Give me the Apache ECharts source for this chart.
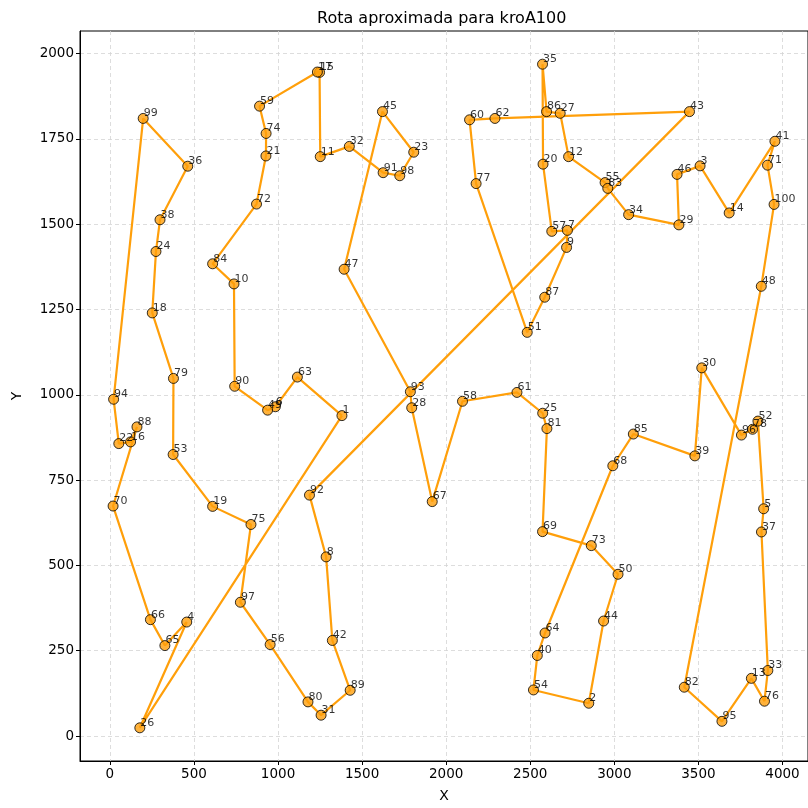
<!DOCTYPE html>
<html><head><meta charset="utf-8">
<script src="https://cdn.jsdelivr.net/npm/echarts@6/dist/echarts.min.js"></script>
<style>html,body{margin:0;padding:0;background:#fff}#c{width:808px;height:808px}</style>
</head><body><div id="c"></div><script>
// kroA100 node coordinates (node ids 1..100)
const nodeX = [1380,2848,3510,457,3888,984,2721,1286,2716,738,1251,2728,3815,3683,1247,123,1234,252,611,2576,
928,53,1807,274,2574,178,2678,1795,3384,3520,1256,1424,3913,3085,2573,463,3875,298,3479,2542,
3955,1323,3447,2936,1621,3373,1393,3874,938,3022,2482,3854,376,2519,2945,953,2628,2097,890,2139,
2421,2290,1115,2588,327,241,1917,2991,2573,19,3911,872,2863,929,839,3893,2178,3822,378,1178,
2599,3416,2961,611,3113,2597,2586,161,1429,742,1625,1187,1787,22,3640,3756,776,1724,198,3950];
const nodeY = [939,96,1671,334,666,965,1482,525,1432,1325,1698,1698,169,1533,1945,862,1946,1240,673,1676,
1700,857,1711,1420,946,24,1825,962,1498,1079,61,1728,192,1528,1969,1670,598,1513,821,236,
1743,280,1830,337,1830,1646,1368,1318,955,474,1183,923,825,135,1622,268,1479,981,1846,1806,
1007,1810,1052,302,265,341,687,792,599,674,1673,1559,558,1766,620,102,1619,899,1048,100,
901,143,1605,1384,885,1830,1286,906,134,1025,1651,706,1009,987,43,882,392,1642,1810,1558];
// approximate route (order of node ids)
const tour = [1,63,6,49,90,10,84,72,21,74,59,17,15,11,32,91,98,23,45,47,
93,28,67,58,61,25,81,69,73,50,44,2,54,40,64,68,85,39,30,96,
78,52,5,37,33,76,13,95,82,48,100,71,41,14,3,46,29,34,83,55,
12,27,86,35,20,57,7,9,87,51,77,60,62,43,92,8,42,89,31,80,
56,97,75,19,53,79,18,24,38,36,99,94,22,16,88,70,66,65,4,26];
const xTicks = [0,500,1000,1500,2000,2500,3000,3500,4000];
const yTicks = [0,250,500,750,1000,1250,1500,1750,2000];

const routeData = tour.map(id => [nodeX[id-1], nodeY[id-1]]);
routeData.push([nodeX[tour[0]-1], nodeY[tour[0]-1]]);
const pointData = nodeX.map((x, i) => ({value: [x, nodeY[i]], name: String(i+1)}));

const FONT = 'DejaVu Sans';
const chart = echarts.init(document.getElementById('c'), null, {renderer: 'canvas'});
const axisCommon = {
  type: 'value',
  axisLine: {show: true, onZero: false, lineStyle: {color: '#000', width: 1}},
  splitLine: {show: true, lineStyle: {color: '#d4d4d4', type: [4, 3], width: 0.8}},
  nameTextStyle: {fontFamily: FONT, fontSize: 14, color: '#000'}
};
chart.setOption({
  animation: false,
  backgroundColor: '#fff',
  title: {text: 'Rota aproximada para kroA100', left: 312, top: 6,
    textStyle: {fontFamily: FONT, fontSize: 16, fontWeight: 'normal', color: '#000'}},
  grid: {left: 80, top: 31, width: 735, height: 734, show: true, borderColor: '#000', borderWidth: 1},
  xAxis: Object.assign({}, axisCommon, {
    min: -177.8, max: 4151.8, name: 'X', nameLocation: 'middle', nameGap: 28,
    axisTick: {show: true, length: 4, lineStyle: {color: '#000'}, customValues: xTicks},
    axisLabel: {customValues: xTicks, formatter: v => String(v), fontFamily: FONT, fontSize: 13.5, color: '#000', margin: 6}
  }),
  yAxis: Object.assign({}, axisCommon, {
    min: -73.25, max: 2066.25, name: 'Y', nameLocation: 'middle', nameGap: 56,
    axisTick: {show: true, length: 4, lineStyle: {color: '#000'}, customValues: yTicks},
    axisLabel: {customValues: yTicks, formatter: v => String(v), fontFamily: FONT, fontSize: 13.5, color: '#000', margin: 6}
  }),
  series: [
    {type: 'line', data: routeData, showSymbol: false, symbol: 'none',
     lineStyle: {color: '#FF9F0A', width: 2.2}, z: 2, silent: true},
    {type: 'scatter', data: pointData, symbol: 'circle', symbolSize: 10,
     itemStyle: {color: '#FF9F0A', borderColor: '#000', borderWidth: 1}, z: 3,
     label: {show: true, formatter: p => p.name, position: [6, 6], align: 'left', verticalAlign: 'bottom',
       fontFamily: FONT, fontSize: 11, color: '#000'}, labelLayout: {hideOverlap: false}}
  ]
});
</script></body></html>
